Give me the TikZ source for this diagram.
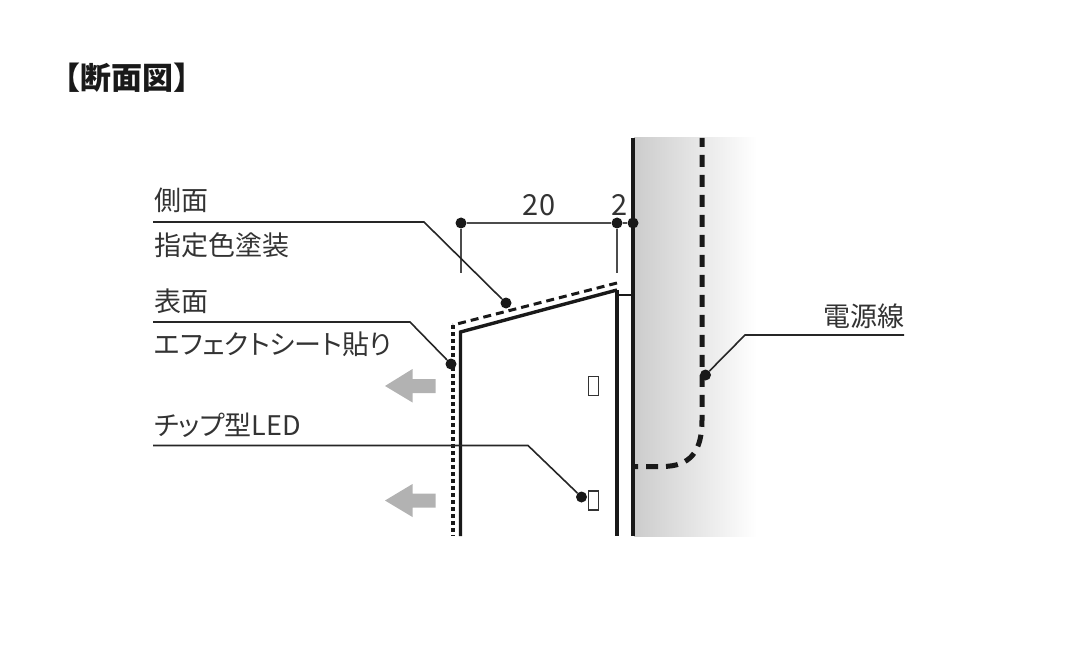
\documentclass[tikz,border=0pt]{standalone}
\usepackage{fontspec}
\setmainfont{Noto Sans CJK JP}
\newfontfamily\palfont[RawFeature=+palt]{Noto Sans CJK JP}
\usepackage{xcolor}
\begin{document}
\begin{tikzpicture}[x=1pt, y=-1pt]
        % ================= 样式定义 =================
        \tikzset{
            % 引出线上的文字
            label_text/.style={anchor=base west, inner sep=0pt, text=black!80, font=\palfont\fontsize{27}{27}\selectfont},
            % 尺寸数字
            dim_text/.style={anchor=base, inner sep=0pt, text=black!80, font=\fontsize{29}{29}\selectfont},
            % 黑色圆点
            dot/.style={circle, fill=black!90, minimum size=11pt, inner sep=0pt},
            % 细引出线
            leader/.style={line width=1.6pt, black!85},
            % 尺寸线
            dim_line/.style={line width=2pt, black!70},
            % 面板与墙面
            panel/.style={line width=3.4pt, black!90},
            wall/.style={line width=4pt, black!90},
            % 指定色涂装(虚线)与贴膜(点线)
            paint/.style={line width=3pt, black!90, dash pattern=on 8pt off 5pt},
            sheet/.style={line width=3.6pt, black!90, dash pattern=on 3.5pt off 3.5pt},
            % 电源线
            cable/.style={line width=5pt, black!90, dash pattern=on 12pt off 8pt, dash phase=7pt},
            % LED 芯片
            chip/.style={draw=black!80, line width=1.5pt, fill=white, minimum width=10pt, minimum height=19pt, inner sep=0pt},
            % 灰色箭头
            glow/.style={fill=black!30}
        }
        \useasboundingbox (0,0) rectangle (1080,666);

        % ================= 1. 标题 =================
        \node[anchor=base west, inner sep=0pt, text=black!90, font=\fontsize{31}{31}\selectfont\bfseries] (title) at (49,90) {【断面図】};

        % ================= 2. 墙面渐变 =================
        \shade[left color=black!20, right color=white] (634,138) rectangle (757,536);

        % ================= 3. 坐标点 =================
        \coordinate (wall_top) at (633,138);
        \coordinate (wall_bot) at (633,536);
        \coordinate (panel_bl) at (460.5,536);
        \coordinate (panel_tl) at (460.5,332);
        \coordinate (panel_tr) at (617,290);
        \coordinate (panel_br) at (617,536);
        \coordinate (joint_l) at (617,295);
        \coordinate (joint_r) at (633,295);
        \coordinate (paint_r) at (617,283);
        \coordinate (paint_l) at (453,325);
        \coordinate (sheet_bot) at (453,536);
        \coordinate (tick_a) at (461,273);
        \coordinate (tick_b) at (617,273);
        \coordinate (cable_top) at (702,138);
        \coordinate (cable_end) at (633,466.5);

        % ================= 4. 墙、面板 =================
        \draw[cable] (cable_end) -- (662,466.5) .. controls (690,466.5) and (702,452) .. (702,420) -- (cable_top);
        \draw[wall] (wall_top) -- (wall_bot);
        \draw[panel, line join=miter] (panel_bl) -- (panel_tl) -- (panel_tr);
        \draw[panel] (panel_tr) -- (panel_br);
        \draw[line width=2.4pt, black!90] (joint_l) -- (joint_r);
        \draw[paint] (paint_r) -- (paint_l);
        \draw[sheet] (paint_l) -- (sheet_bot);

        % ================= 5. LED 与箭头 =================
        \node[chip] (led1) at (593.5,386) {};
        \node[chip] (led2) at (593.5,500.5) {};
        \fill[glow] (385,386) -- (412.5,369) -- (412.5,379) -- (435.5,379) -- (435.5,393) -- (412.5,393) -- (412.5,402.5) -- cycle;
        \fill[glow] (385,500.5) -- (412.5,484) -- (412.5,493.5) -- (435.5,493.5) -- (435.5,507.5) -- (412.5,507.5) -- (412.5,517) -- cycle;

        % ================= 6. 尺寸 =================
        \node[dot] (dim_a) at (461,223) {};
        \node[dot] (dim_b) at (617,223) {};
        \node[dot] (dim_c) at (633,223) {};
        \draw[dim_line] (dim_a) -- (dim_b);
        \draw[dim_line] (dim_b) -- (dim_c);
        \draw[dim_line] (dim_a) -- (tick_a);
        \draw[dim_line] (dim_b) -- (tick_b);
        \node[dim_text] (num20) at (539,215) {20};
        \node[dim_text] (num2) at (620,215) {2};

        % ================= 7. 引出线与文字 =================
        \node[dot] (side_dot) at (506,303) {};
        \node[dot] (face_dot) at (451,364) {};
        \node[dot] (led_dot) at (581.5,497) {};
        \node[dot] (cable_dot) at (705.5,375) {};

        \coordinate (side_s) at (153,222);
        \coordinate (side_k) at (424,222);
        \coordinate (face_s) at (153,322);
        \coordinate (face_k) at (410,322);
        \coordinate (led_s) at (153,445.5);
        \coordinate (led_k) at (528,445.5);
        \coordinate (cable_s) at (904,335);
        \coordinate (cable_k) at (745,335);

        \draw[leader] (side_s) -- (side_k) -- (side_dot);
        \draw[leader] (face_s) -- (face_k) -- (face_dot);
        \draw[leader] (led_s) -- (led_k) -- (led_dot);
        \draw[leader] (cable_s) -- (cable_k) -- (cable_dot);

        \node[label_text] (side_a) at (154,211) {側面};
        \node[label_text] (side_b) at (154,255) {指定色塗装};
        \node[label_text] (face_a) at (154,311) {表面};
        \node[label_text] (face_b) at (154,354) {エフェクトシート貼り};
        \node[label_text] (led_t) at (154,435) {チップ型LED};
        \node[label_text, anchor=base east] (cable_t) at (905,326) {電源線};
    \end{tikzpicture}
\end{document}
